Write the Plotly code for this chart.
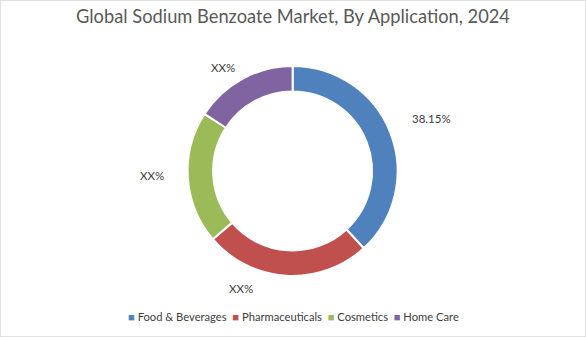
import plotly.graph_objects as go

categories = ["Food & Beverages", "Pharmaceuticals", "Cosmetics", "Home Care"]
shares = [38.15, 25.6, 20.4, 15.85]
label_texts = ["38.15%", "XX%", "XX%", "XX%"]
colors = ["#4F81BD", "#C0504D", "#9BBB59", "#8064A2"]

W, H = 586, 337
FONT = "Lato"

# label positions (pixels in the window)
label_px = [(431.7, 118.3), (240.7, 288.3), (151.7, 175.7), (222.7, 67.3)]

cx, cy, R = 292.6, 171.0, 105.0

fig = go.Figure()
fig.add_trace(go.Pie(
    labels=categories,
    values=shares,
    sort=False,
    direction="clockwise",
    rotation=0,
    hole=0.757,
    marker=dict(colors=colors, line=dict(color="white", width=2)),
    textinfo="none",
    hoverinfo="label+percent",
    showlegend=False,
    domain=dict(x=[(cx - R) / W, (cx + R) / W],
                y=[(H - cy - R) / H, (H - cy + R) / H]),
))

annotations = []
for txt, (px, py) in zip(label_texts, label_px):
    annotations.append(dict(
        x=px / W, y=1 - py / H, xref="paper", yref="paper",
        text=txt, showarrow=False, xanchor="center", yanchor="middle",
        font=dict(family=FONT, size=11.5, color="#404040"),
    ))

legend_html = "&nbsp;&nbsp;".join(
    f"<span style='color:{c}'>■</span> {name}" for c, name in zip(colors, categories)
)
annotations.append(dict(
    x=0.5 + 0.5 / W, y=1 - 316.7 / H, xref="paper", yref="paper",
    text=legend_html, showarrow=False, xanchor="center", yanchor="middle",
    font=dict(family=FONT, size=11.2, color="#404040"),
))

fig.update_layout(
    width=W, height=H,
    margin=dict(l=0, r=0, t=0, b=0),
    paper_bgcolor="white", plot_bgcolor="white",
    title=dict(text="Global Sodium Benzoate Market, By Application, 2024",
               x=0.5, xanchor="center", y=1 - 17 / H, yanchor="middle",
               font=dict(family=FONT, size=18.3, color="#595959")),
    annotations=annotations,
    shapes=[dict(type="rect", xref="paper", yref="paper", x0=0, y0=0, x1=1, y1=1,
                 line=dict(color="#D9D9D9", width=1.5))],
)

fig.write_html("out.html")
